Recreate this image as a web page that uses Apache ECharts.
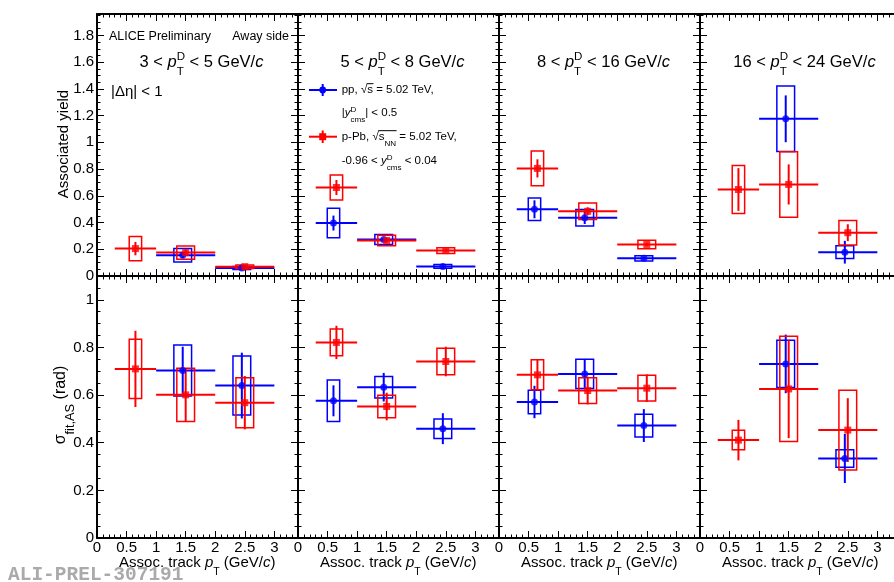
<!DOCTYPE html>
<html>
<head>
<meta charset="utf-8">
<script src="https://cdn.jsdelivr.net/npm/echarts@6/dist/echarts.min.js"></script>
<style>
html, body { margin: 0; padding: 0; background: #fff; }
#chart { width: 894px; height: 582px; }
</style>
</head>
<body>
<div id="chart"></div>
<script>
// D-meson pT ranges, one per column
const DPT_RANGES = [[3, 5], [5, 8], [8, 16], [16, 24]];
// associated track pT bins
const BIN_LO = [0.3, 1, 2];
const BIN_HI = [1, 2, 3];
const PP_X = [0.6, 1.45, 2.45];
const PPB_X = [0.65, 1.5, 2.5];

// associated yield (top row), one array per D pT range
const PP_YIELD = [[null, 0.155, 0.06], [0.396, 0.273, 0.072], [0.499, 0.436, 0.132], [null, 1.176, 0.178]];
const PP_YIELD_STAT = [[null, 0.02, 0.008], [0.056, 0.012, 0.008], [0.067, 0.047, 0.01], [null, 0.175, 0.085]];
const PP_YIELD_SYS = [[null, 0.05, 0.012], [0.11, 0.038, 0.014], [0.084, 0.062, 0.019], [null, 0.245, 0.048]];
const PPB_YIELD = [[0.205, 0.175, 0.07], [0.662, 0.266, 0.19], [0.805, 0.484, 0.236], [0.647, 0.685, 0.324]];
const PPB_YIELD_STAT = [[0.05, 0.025, 0.008], [0.056, 0.015, 0.01], [0.068, 0.03, 0.012], [0.16, 0.15, 0.063]];
const PPB_YIELD_SYS = [[0.09, 0.05, 0.013], [0.094, 0.039, 0.022], [0.13, 0.062, 0.032], [0.18, 0.245, 0.092]];

// sigma fit,AS (bottom row)
const PP_SIGMA = [[null, 0.703, 0.64], [0.576, 0.633, 0.459], [0.571, 0.689, 0.472], [null, 0.731, 0.334]];
const PP_SIGMA_STAT = [[null, 0.1, 0.138], [0.065, 0.06, 0.065], [0.068, 0.063, 0.069], [null, 0.123, 0.103]];
const PP_SIGMA_SYS = [[null, 0.107, 0.124], [0.087, 0.045, 0.041], [0.049, 0.061, 0.048], [null, 0.099, 0.037]];
const PPB_SIGMA = [[0.71, 0.601, 0.568], [0.821, 0.552, 0.741], [0.685, 0.619, 0.629], [0.411, 0.626, 0.453]];
const PPB_SIGMA_STAT = [[0.16, 0.112, 0.112], [0.07, 0.058, 0.062], [0.063, 0.058, 0.058], [0.085, 0.207, 0.134]];
const PPB_SIGMA_SYS = [[0.124, 0.112, 0.105], [0.056, 0.047, 0.056], [0.063, 0.054, 0.054], [0.041, 0.221, 0.167]];

// axis ranges
const X_MAX = 3.4;
const Y_MAX = [1.96, 1.1];

// layout
const BOX_HALF = [0.105, 0.15, 0.15];
const BLUE = '#0000ff';
const RED = '#ff0000';
const FONT = '"Liberation Sans", Arial, Helvetica, sans-serif';
const PANEL_LEFT = 97, PANEL_W = 201, ROW_TOP = [14, 276], ROW_H = 262;

const mctx = document.createElement('canvas').getContext('2d');
function textWidth(s, size, italic) {
  mctx.font = (italic ? 'italic ' : '') + size + 'px ' + FONT;
  return mctx.measureText(s).width;
}

// lays out text pieces: {t, it}, {sup, sub}, {sqrt: [...]}
function layout(segs, size, x, kids, scale) {
  const small = size * (scale || 0.7);
  segs.forEach(sg => {
    if (sg.sqrt) {
      const w = textWidth('\u221A', size);
      kids.push(txt('\u221A', x, 0, size, false));
      x += w;
      const start = x;
      x = layout(sg.sqrt, size, x, kids, scale);
      kids.push({ type: 'line', shape: { x1: start - 0.5, y1: -size * 0.55, x2: x + 0.5, y2: -size * 0.55 },
        style: { stroke: '#000', lineWidth: 1 } });
    } else if (sg.t !== undefined) {
      kids.push(txt(sg.t, x, 0, size, sg.it));
      x += textWidth(sg.t, size, sg.it);
    } else {
      let w = 0;
      if (sg.sup) { kids.push(txt(sg.sup, x, -size * 0.3, small, false)); w = Math.max(w, textWidth(sg.sup, small)); }
      if (sg.sub) { kids.push(txt(sg.sub, x, size * 0.6, small, false)); w = Math.max(w, textWidth(sg.sub, small)); }
      x += w;
    }
  });
  return x;
}
function txt(s, x, y, size, italic) {
  return { type: 'text', x: x, y: y, style: { text: s, font: (italic ? 'italic ' : '') + size + 'px ' + FONT,
    fill: '#000', align: 'left', verticalAlign: 'middle' } };
}
function label(segs, size, x, y, align, rotation, scale) {
  const kids = [];
  const w = layout(segs, size, 0, kids, scale);
  const off = align === 'center' ? -w / 2 : align === 'right' ? -w : 0;
  return { type: 'group', x: x, y: y, rotation: rotation || 0,
    children: [{ type: 'group', x: off, y: 0, children: kids }] };
}

function buildData(xs, ys, stat, sys) {
  const out = [];
  ys.forEach((y, k) => {
    if (y === null) return;
    out.push([BIN_LO[k], BIN_HI[k], xs[k], y, stat[k], sys[k], BOX_HALF[k]]);
  });
  return out;
}

function errRender(color) {
  return function (params, api) {
    const lo = api.value(0), hi = api.value(1), x = api.value(2), y = api.value(3);
    const st = api.value(4), sy = api.value(5), hw = api.value(6);
    const a = api.coord([lo, y]), b = api.coord([hi, y]);
    const c1 = api.coord([x, y - st]), c2 = api.coord([x, y + st]);
    const r1 = api.coord([x - hw, y + sy]), r2 = api.coord([x + hw, y - sy]);
    return { type: 'group', children: [
      { type: 'rect', shape: { x: r1[0], y: r1[1], width: r2[0] - r1[0], height: r2[1] - r1[1] },
        style: { fill: 'none', stroke: color, lineWidth: 1.5 } },
      { type: 'line', shape: { x1: a[0], y1: a[1], x2: b[0], y2: b[1] }, style: { stroke: color, lineWidth: 2 } },
      { type: 'line', shape: { x1: c1[0], y1: c1[1], x2: c2[0], y2: c2[1] }, style: { stroke: color, lineWidth: 2 } }
    ] };
  };
}

function fmt(step) {
  return v => Math.abs(v / step - Math.round(v / step)) < 1e-6 ? String(Math.round(v * 10) / 10) : '';
}

const grids = [], xAxes = [], yAxes = [], series = [];
const lineSt = { color: '#000', width: 2 };
const tickSt = { color: '#000', width: 1 };

for (let i = 0; i < 8; i++) {
  const row = i < 4 ? 0 : 1, col = i % 4;
  grids.push({ left: PANEL_LEFT + col * PANEL_W, top: ROW_TOP[row], width: PANEL_W, height: ROW_H,
    outerBoundsMode: 'none', containLabel: false });
  ['bottom', 'top'].forEach(pos => {
    xAxes.push({ gridIndex: i, type: 'value', position: pos, min: 0, max: X_MAX, interval: 0.5,
      axisLine: { show: true, onZero: false, lineStyle: lineSt },
      axisTick: { show: true, inside: true, length: 7, lineStyle: tickSt },
      minorTick: { show: true, splitNumber: 5, length: 3.5, lineStyle: tickSt },
      splitLine: { show: false }, minorSplitLine: { show: false },
      axisLabel: { show: pos === 'bottom' && row === 1, formatter: fmt(0.5), fontSize: 15,
        fontFamily: FONT, color: '#000', margin: 2 } });
  });
  ['left', 'right'].forEach(pos => {
    yAxes.push({ gridIndex: i, type: 'value', position: pos, min: 0, max: Y_MAX[row], interval: 0.2,
      axisLine: { show: true, onZero: false, lineStyle: lineSt },
      axisTick: { show: true, inside: true, length: 7, lineStyle: tickSt },
      minorTick: { show: true, splitNumber: 4, length: 3.5, lineStyle: tickSt },
      splitLine: { show: false }, minorSplitLine: { show: false },
      axisLabel: { show: pos === 'left' && col === 0, formatter: fmt(0.2), fontSize: 15,
        fontFamily: FONT, color: '#000', margin: 3 } });
  });

  const pp = row === 0 ? buildData(PP_X, PP_YIELD[col], PP_YIELD_STAT[col], PP_YIELD_SYS[col])
                       : buildData(PP_X, PP_SIGMA[col], PP_SIGMA_STAT[col], PP_SIGMA_SYS[col]);
  const ppb = row === 0 ? buildData(PPB_X, PPB_YIELD[col], PPB_YIELD_STAT[col], PPB_YIELD_SYS[col])
                        : buildData(PPB_X, PPB_SIGMA[col], PPB_SIGMA_STAT[col], PPB_SIGMA_SYS[col]);
  [[pp, BLUE, 'circle'], [ppb, RED, 'rect']].forEach(([d, color, sym]) => {
    series.push({ type: 'custom', xAxisIndex: 2 * i, yAxisIndex: 2 * i, data: d,
      encode: { x: [0, 1, 2], y: 3 }, renderItem: errRender(color), silent: true });
    series.push({ type: 'scatter', xAxisIndex: 2 * i, yAxisIndex: 2 * i, data: d.map(p => [p[2], p[3]]),
      symbol: sym, symbolSize: 7, itemStyle: { color: color }, silent: true });
  });
}

// texts
const graphics = [];
DPT_RANGES.forEach((r, c) => {
  graphics.push(label([{ t: r[0] + ' < ' }, { t: 'p', it: true }, { sup: 'D', sub: 'T' },
    { t: ' < ' + r[1] + ' GeV/' }, { t: 'c', it: true }], 16.5,
    PANEL_LEFT + c * PANEL_W + PANEL_W / 2 + 4, 62, 'center'));
  graphics.push(label([{ t: 'Assoc. track ' }, { t: 'p', it: true }, { sub: 'T' }, { t: ' (GeV/' },
    { t: 'c', it: true }, { t: ')' }], 15, PANEL_LEFT + c * PANEL_W + 178.5, 563, 'right'));
});
graphics.push(label([{ t: 'ALICE Preliminary' }], 12.5, 109, 37, 'left'));
graphics.push(label([{ t: 'Away side' }], 12.5, 289, 37, 'right'));
graphics.push(label([{ t: '|\u0394\u03B7| < 1' }], 15, 111, 92, 'left'));
graphics.push(label([{ t: 'Associated yield' }], 15, 64, 144, 'center', Math.PI / 2));
graphics.push(label([{ t: '\u03C3' }, { sub: 'fit,AS' }, { t: ' (rad)' }], 16, 61, 405, 'center', Math.PI / 2, 0.8));

// legend
const LX = 322.7;
graphics.push({ type: 'line', shape: { x1: 309, y1: 90, x2: 337, y2: 90 }, style: { stroke: BLUE, lineWidth: 2 } });
graphics.push({ type: 'line', shape: { x1: LX, y1: 84, x2: LX, y2: 96 }, style: { stroke: BLUE, lineWidth: 2 } });
graphics.push({ type: 'circle', shape: { cx: LX, cy: 90, r: 3.4 }, style: { fill: BLUE } });
graphics.push({ type: 'line', shape: { x1: 309, y1: 136.7, x2: 337, y2: 136.7 }, style: { stroke: RED, lineWidth: 2 } });
graphics.push({ type: 'line', shape: { x1: LX, y1: 130.5, x2: LX, y2: 143 }, style: { stroke: RED, lineWidth: 2 } });
graphics.push({ type: 'rect', shape: { x: LX - 3.5, y: 133.2, width: 7, height: 7 }, style: { fill: RED } });
graphics.push(label([{ t: 'pp, ' }, { sqrt: [{ t: 's' }] }, { t: ' = 5.02 TeV,' }], 11.5, 341.7, 90, 'left'));
graphics.push(label([{ t: '|' }, { t: 'y', it: true }, { sup: 'D', sub: 'cms' }, { t: '| < 0.5' }], 11.5, 341.7, 113, 'left'));
graphics.push(label([{ t: 'p-Pb, ' }, { sqrt: [{ t: 's' }, { sub: 'NN' }] }, { t: ' = 5.02 TeV,' }], 11.5, 341.7, 137, 'left'));
graphics.push(label([{ t: '-0.96 < ' }, { t: 'y', it: true }, { sup: 'D', sub: 'cms' }, { t: ' < 0.04' }], 11.5, 341.7, 161, 'left'));

// watermark
graphics.push({ type: 'text', x: 8, y: 575, style: { text: 'ALI-PREL-307191',
  font: 'bold 19.5px "Liberation Mono", "DejaVu Sans Mono", monospace', fill: '#aaaaaa',
  align: 'left', verticalAlign: 'middle' } });

const chart = echarts.init(document.getElementById('chart'));
chart.setOption({
  animation: false,
  backgroundColor: '#fff',
  grid: grids,
  xAxis: xAxes,
  yAxis: yAxes,
  series: series,
  graphic: { elements: graphics }
});
</script>
</body>
</html>
